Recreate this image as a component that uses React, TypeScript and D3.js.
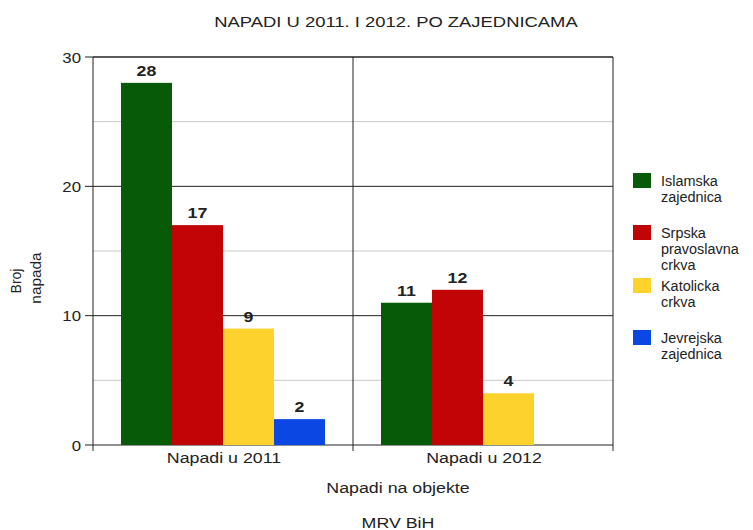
import React from "react";
import * as d3 from "d3";

const groups = ["Napadi u 2011", "Napadi u 2012"];
const series = ["Islamska zajednica", "Srpska pravoslavna crkva", "Katolicka crkva", "Jevrejska zajednica"];
const legendLines = [["Islamska", "zajednica"], ["Srpska", "pravoslavna", "crkva"], ["Katolicka", "crkva"], ["Jevrejska", "zajednica"]];
const colors = ["#065a08", "#c10505", "#fdd22c", "#0b47e3"];
const values2011 = [28, 17, 9, 2];
const values2012 = [11, 12, 4, null];
const yTicks = [0, 10, 20, 30];
const minorTicks = [5, 15, 25];

const W = 753, H = 530;
const left = 93, right = 613, top = 57, bottom = 445;
const SX = 1.27;

function T({ x, y, sx = SX, anchor = "middle", size = 14, weight = "normal", children }: any) {
  return (
    <text transform={`translate(${x},${y}) scale(${sx},1)`} textAnchor={anchor} fontSize={size} fontWeight={weight} fill="#222">
      {children}
    </text>
  );
}

export default function App() {
  const data = [values2011, values2012];
  const y = d3.scaleLinear().domain([0, 30]).range([bottom, top]);
  const x0 = d3.scaleBand().domain(groups).range([left, right]).paddingInner(0).paddingOuter(0);
  const x1 = d3.scaleBand().domain(series).range([28, x0.bandwidth() - 28]);
  const font = "'Liberation Sans', Arial, sans-serif";
  const legendY = [173, 225, 278, 330];
  return (
    <svg width={W} height={H} style={{ position: "absolute", left: 0, top: 0, background: "#fff" }} fontFamily={font}>
      <rect width={W} height={H} fill="#fff" />
      <T x={396} y={27} size={14.5}>NAPADI U 2011. I 2012. PO ZAJEDNICAMA</T>
      {minorTicks.map(t => (
        <line key={t} x1={left} x2={right} y1={y(t)} y2={y(t)} stroke="#c8c8c8" strokeWidth={1} />
      ))}
      {yTicks.map(t => (
        <g key={t}>
          <line x1={left - 8} x2={right} y1={y(t)} y2={y(t)} stroke="#222" strokeWidth={1} />
          <T x={81} y={y(t) + 5.5} anchor="end" size={15} sx={1.12}>{t}</T>
        </g>
      ))}
      {data.map((vals, gi) =>
        vals.map((v, si) => v == null ? null : (
          <g key={gi + "-" + si}>
            <rect x={x0(groups[gi])! + x1(series[si])!} y={y(v)} width={x1.bandwidth()} height={y(0) - y(v)} fill={colors[si]} />
            <T x={x0(groups[gi])! + x1(series[si])! + x1.bandwidth() / 2} y={y(v) - 7} weight="bold">{v}</T>
          </g>
        ))
      )}
      <line x1={left} x2={left} y1={top} y2={bottom + 6} stroke="#222" />
      <line x1={right} x2={right} y1={top} y2={bottom + 6} stroke="#222" />
      <line x1={x0(groups[1])!} x2={x0(groups[1])!} y1={top} y2={bottom + 6} stroke="#222" />
      <line x1={left} x2={right} y1={top} y2={top} stroke="#222" />
      {groups.map(g => (
        <T key={g} x={x0(g)! + x0.bandwidth() / 2 + 1} y={463}>{g}</T>
      ))}
      <T x={398} y={493}>Napadi na objekte</T>
      <T x={398} y={528}>MRV BiH</T>
      <text transform="translate(21,281) rotate(-90)" textAnchor="middle" fontSize={14} fill="#222">Broj</text>
      <text transform="translate(41,278) rotate(-90) scale(1.1,1)" textAnchor="middle" fontSize={14} fill="#222">napada</text>
      {series.map((s, i) => (
        <g key={s}>
          <rect x={633} y={legendY[i]} width={18} height={15} fill={colors[i]} />
          {legendLines[i].map((l, j) => (
            <T key={j} x={661} y={legendY[i] + 13 + j * 16} anchor="start" sx={1.03}>{l}</T>
          ))}
        </g>
      ))}
    </svg>
  );
}
